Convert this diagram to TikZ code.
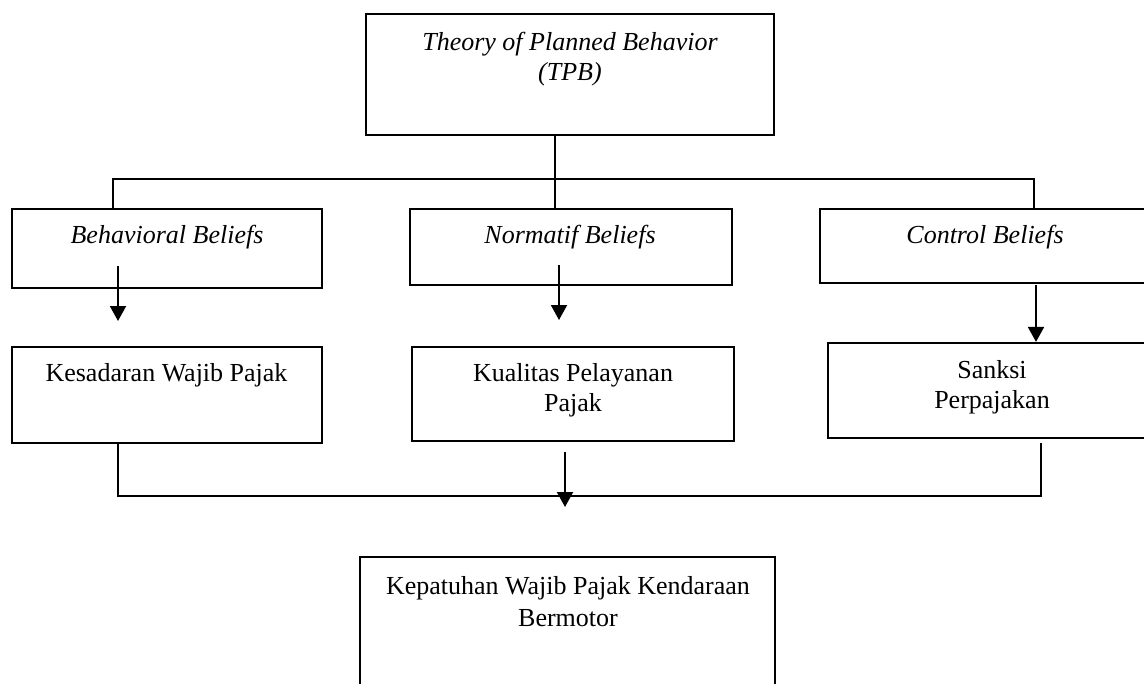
\documentclass[tikz,border=0pt]{standalone}
\usepackage{fontspec}
\setmainfont{Liberation Serif}
\usetikzlibrary{arrows.meta}
\begin{document}
\begin{tikzpicture}[x=0.5pt,y=-0.5pt, font=\fontsize{13}{15}\selectfont,
	line join=miter, >={Triangle[length=7.5pt,width=8pt]},
	box/.style={draw, line width=1.1pt, rectangle, inner sep=0pt},
	lbl/.style={align=center, inner sep=0pt},
	arr/.style={->, line width=1pt},
	link/.style={line width=1pt}]
	\useasboundingbox (0,0) rectangle (1144,684);
	\clip (0,0) rectangle (1144,684);
	% boxes
	\node[box, minimum width=204pt, minimum height=60.5pt] (tpb) at (570,74.5) {};
	\node[box, minimum width=155pt, minimum height=39.5pt] (bb) at (167,248.5) {};
	\node[box, minimum width=161pt, minimum height=38pt] (nb) at (571,247) {};
	\node[box, minimum width=170pt, minimum height=37pt] (cb) at (990,246) {};
	\node[box, minimum width=155pt, minimum height=48pt] (kwp) at (167,395) {};
	\node[box, minimum width=161pt, minimum height=47pt] (kp) at (573,394) {};
	\node[box, minimum width=166pt, minimum height=47.5pt] (sp) at (994,390.5) {};
	\node[box, minimum width=207.5pt, minimum height=90pt] (kep) at (567.5,647) {};
	% texts
	\node[lbl] (tpbt) at (570,59) {\textit{Theory of Planned Behavior}\\\textit{(TPB)}};
	\node[lbl] (bbt) at (167,237) {\textit{Behavioral Beliefs}};
	\node[lbl] (nbt) at (570,237) {\textit{Normatif Beliefs}};
	\node[lbl] (cbt) at (985,237) {\textit{Control Beliefs}};
	\node[lbl] (kwpt) at (166.5,375) {Kesadaran Wajib Pajak};
	\node[lbl] (kpt) at (573,390) {Kualitas Pelayanan\\Pajak};
	\node[lbl] (spt) at (992,387) {Sanksi\\Perpajakan};
	\node[lbl, font=\fontsize{13}{16}\selectfont] (kept) at (568,602) {Kepatuhan Wajib Pajak Kendaraan\\Bermotor};
	% top branches
	\coordinate (jt) at (555,179);
	\coordinate (busL) at (113,179);
	\coordinate (busR) at (1034,179);
	\draw[link] (tpb.south -| jt) -- (nb.north -| jt);
	\draw[link] (bb.north -| busL) -- (busL) -- (busR) -- (cb.north -| busR);
	% arrows between rows
	\coordinate (a1) at (118,266);
	\coordinate (a1e) at (118,321);
	\coordinate (a2) at (559,265);
	\coordinate (a2e) at (559,320);
	\coordinate (a3) at (1036,285);
	\draw[arr] (a1) -- (a1e);
	\draw[arr] (a2) -- (a2e);
	\draw[arr] (a3) -- (sp.north -| a3);
	% lower bus
	\coordinate (lbL) at (118,496);
	\coordinate (lbR) at (1041,496);
	\coordinate (spd) at (1041,443);
	\coordinate (a4) at (565,452);
	\coordinate (a4e) at (565,507);
	\draw[link] (kwp.south -| lbL) -- (lbL) -- (lbR) -- (spd);
	\draw[arr] (a4) -- (a4e);
\end{tikzpicture}
\end{document}
